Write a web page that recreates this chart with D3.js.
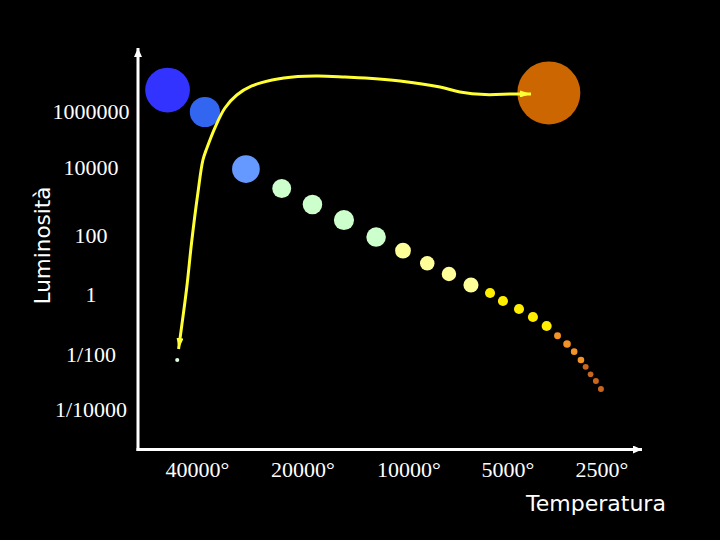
<!DOCTYPE html>
<html>
<head>
<meta charset="utf-8">
<script src="https://cdn.jsdelivr.net/npm/d3@7"></script>
<style>
  body { margin: 0; background: #000; }
</style>
</head>
<body>
<svg id="chart" width="720" height="540"></svg>
<script>
// tick labels
const yTicks = [1e6, 1e4, 1e2, 1, 1e-2, 1e-4];
const yTickLabels = ["1000000", "10000", "100", "1", "1/100", "1/10000"];
const xTicks = [40000, 20000, 10000, 5000, 2500];
const xTickLabels = ["40000°", "20000°", "10000°", "5000°", "2500°"];

// stelle: sequenza principale, poi gigante rossa e nana bianca
const temperature = [48700, 38100, 29100, 23000, 18800, 15300, 12400, 10400, 8800, 7560, 6480, 5670,
                     5180, 4610, 4160, 3760, 3470, 3235, 3070, 2920, 2820, 2720, 2615, 2520, 3700, 45700];
const luminosita = [6.1e6, 1.0e6, 9300, 2500, 843, 295, 92, 31.8, 11.9, 5.15, 2.18, 1.17,
                    0.63, 0.34, 0.185, 0.093, 0.044, 0.0233, 0.0129, 0.0066, 0.0037, 0.0020, 0.00113, 0.00058, 4.8e6, 0.0066];
const raggi = [71, 48, 44, 30, 31, 32, 31, 25, 23, 23, 24, 16,
               16, 16, 16, 16, 11, 12, 10.5, 10.5, 9.5, 9, 9.5, 9.5, 100, 6.5];
const tipi = ["O", "B", "A", "W", "W", "W", "W", "F", "F", "F", "F", "G",
              "G", "G", "G", "G", "K", "K", "K", "K", "M", "M", "M", "M", "gigante", "nana"];

// traccia evolutiva (freccia gialla)
const tracciaT = [45300, 44400, 42900, 41600, 39900, 38600, 37600, 35600, 33400, 30900, 28000, 24500,
                  20700, 18100, 15200, 13300, 10600, 8050, 7000, 5870, 4820, 4220];
const tracciaL = [0.0158, 0.0877, 1.91, 58, 1840, 19300, 51800, 2.91e5, 1.39e6, 4.05e6, 8.5e6, 1.39e7,
                  1.85e7, 1.93e7, 1.78e7, 1.64e7, 1.28e7, 7.8e6, 5.2e6, 4.2e6, 4.4e6, 4.4e6];

const svg = d3.select("#chart");
svg.append("rect").attr("width", 720).attr("height", 540).attr("fill", "#000");

const x = d3.scaleLog().domain(xTicks).range([197.5, 303, 409, 508, 602]);
const y = d3.scaleLog().domain(yTicks).range([112, 168, 236, 295, 355, 410]);
const r = d3.scaleLinear().domain([0, 100]).range([0, 31.5]);
const colore = d3.scaleOrdinal()
  .domain(["O", "B", "A", "W", "F", "G", "K", "M", "gigante", "nana"])
  .range(["#3333ff", "#3366f0", "#6699ff", "#ccffcc", "#ffff99", "#ffee00", "#f39226", "#c8661e", "#cc6600", "#ddffdd"]);

const defs = svg.append("defs");
function freccia(id, col, len, w) {
  defs.append("marker")
    .attr("id", id)
    .attr("markerUnits", "userSpaceOnUse")
    .attr("viewBox", `${-len} ${-w} ${len + 1} ${2 * w}`)
    .attr("markerWidth", len + 1)
    .attr("markerHeight", 2 * w)
    .attr("refX", 0).attr("refY", 0)
    .attr("orient", "auto-start-reverse")
    .append("path")
    .attr("d", `M0,0L${-len},${-w}L${-len},${w}Z`)
    .attr("fill", col);
}
freccia("assi", "#fff", 9, 4);
freccia("gialla", "#ffff33", 11, 3.5);

// assi
const x0 = 138, yBase = 449.5;
svg.append("line").attr("x1", x0).attr("y1", yBase + 1.5).attr("x2", x0).attr("y2", 48)
  .attr("stroke", "#fff").attr("stroke-width", 3).attr("marker-end", "url(#assi)");
svg.append("line").attr("x1", x0 - 1.5).attr("y1", yBase).attr("x2", 642).attr("y2", yBase)
  .attr("stroke", "#fff").attr("stroke-width", 3).attr("marker-end", "url(#assi)");

// etichette
svg.append("g").selectAll("text")
  .data(yTicks)
  .join("text")
  .attr("x", 91)
  .attr("y", d => y(d))
  .attr("dy", "0.34em")
  .attr("text-anchor", "middle")
  .attr("fill", "#fff")
  .style("font", "22px 'Liberation Serif', 'Times New Roman', serif")
  .text((d, i) => yTickLabels[i]);

svg.append("g").selectAll("text")
  .data(xTicks)
  .join("text")
  .attr("x", d => x(d))
  .attr("y", 470)
  .attr("dy", "0.34em")
  .attr("text-anchor", "middle")
  .attr("fill", "#fff")
  .style("font", "22px 'Liberation Serif', 'Times New Roman', serif")
  .text((d, i) => xTickLabels[i]);

svg.append("text")
  .attr("transform", "translate(50,245.5) rotate(-90)")
  .attr("text-anchor", "middle")
  .attr("fill", "#fff")
  .style("font", "21.5px 'DejaVu Sans', sans-serif")
  .text("Luminosità");

svg.append("text")
  .attr("x", 596).attr("y", 511)
  .attr("text-anchor", "middle")
  .attr("fill", "#fff")
  .style("font", "22px 'DejaVu Sans', sans-serif")
  .text("Temperatura");

// stelle
const stelle = temperature.map((t, i) => ({ t: t, l: luminosita[i], r: raggi[i], tipo: tipi[i] }));
svg.append("g").selectAll("circle")
  .data(stelle)
  .join("circle")
  .attr("cx", d => x(d.t))
  .attr("cy", d => y(d.l))
  .attr("r", d => r(d.r))
  .attr("fill", d => colore(d.tipo));

// traccia
const traccia = tracciaT.map((t, i) => [x(t), y(tracciaL[i])]);
svg.append("path")
  .attr("d", d3.line().curve(d3.curveCatmullRom)(traccia))
  .attr("fill", "none")
  .attr("stroke", "#ffff33")
  .attr("stroke-width", 3)
  .attr("marker-start", "url(#gialla)")
  .attr("marker-end", "url(#gialla)");
</script>
</body>
</html>
